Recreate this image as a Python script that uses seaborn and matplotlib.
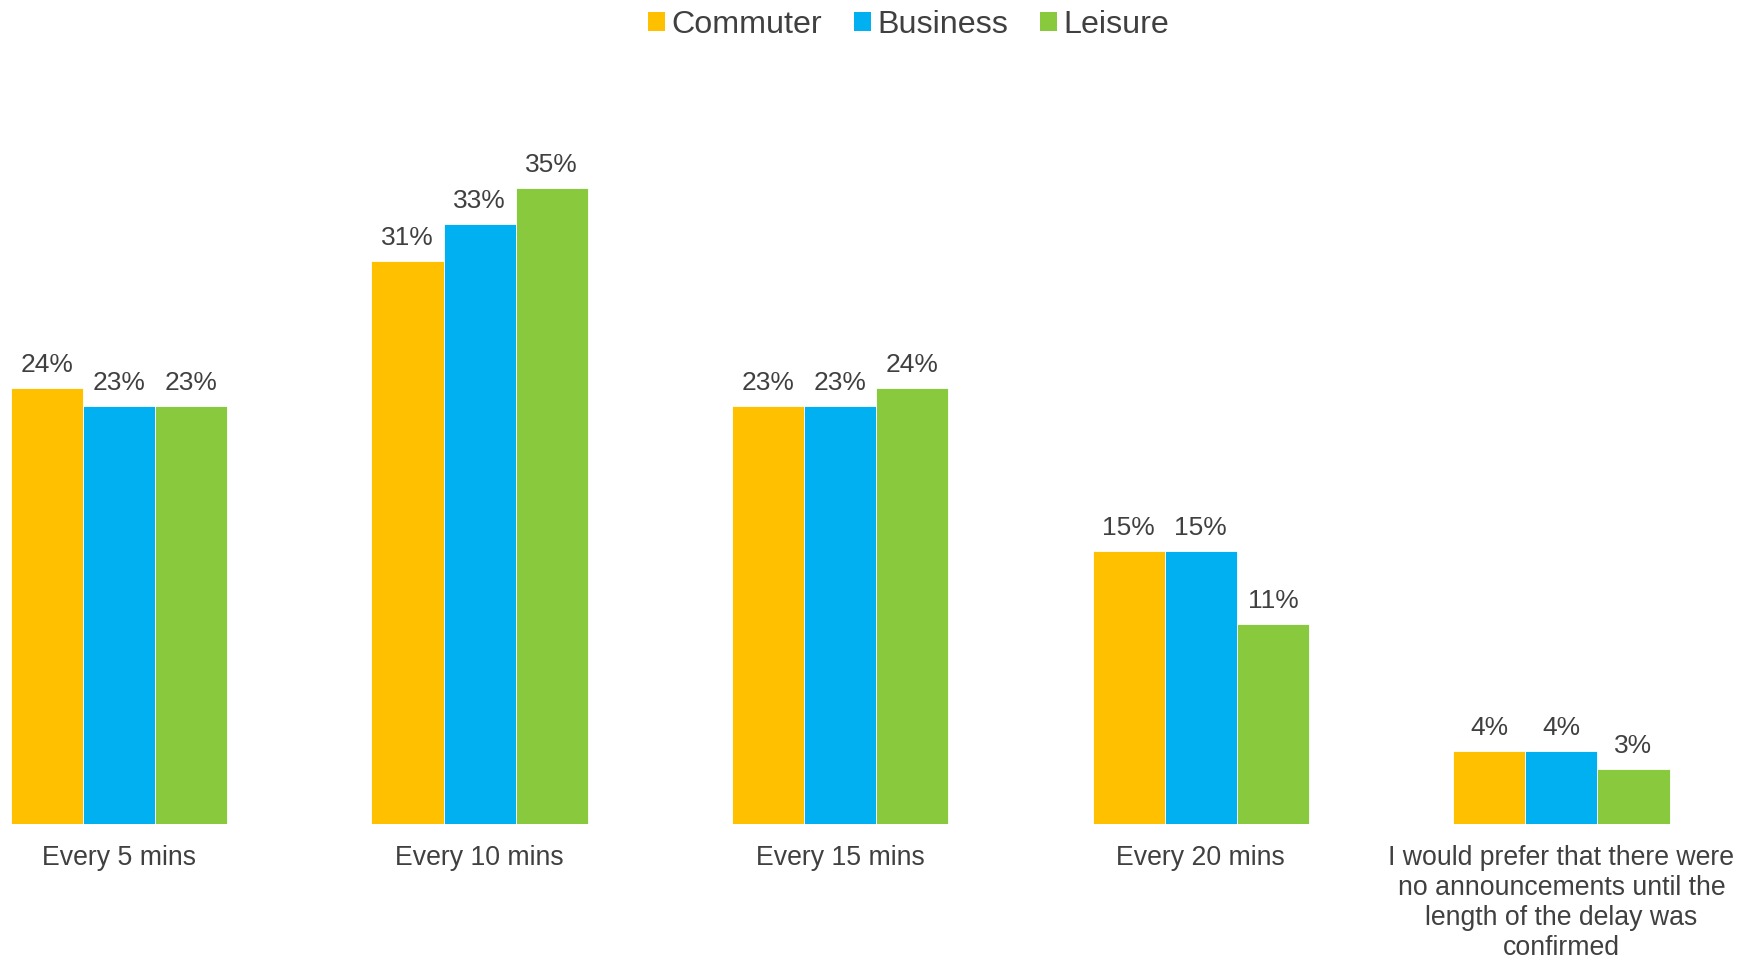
import matplotlib
matplotlib.use("Agg")
import matplotlib.pyplot as plt
import matplotlib.patches as mpatches
import seaborn as sns
import pandas as pd

# Survey answers: preferred frequency of delay announcements
categories = [
    "Every 5 mins",
    "Every 10 mins",
    "Every 15 mins",
    "Every 20 mins",
    "I would prefer that there were\nno announcements until the\nlength of the delay was\nconfirmed",
]
segments = ["Commuter", "Business", "Leisure"]
commuter = [24, 31, 23, 15, 4]
business = [23, 33, 23, 15, 4]
leisure = [23, 35, 24, 11, 3]

colors = ["#FFC000", "#00B0F0", "#89C93E"]
text_color = "#404040"

df = pd.DataFrame({
    "category": categories * 3,
    "segment": [s for s in segments for _ in categories],
    "value": commuter + business + leisure,
})

sns.set_theme(style="white")
plt.rcParams["font.family"] = ["Liberation Sans", "DejaVu Sans"]

fig = plt.figure(figsize=(17.37, 9.6), dpi=100)
ax = fig.add_axes([0.0, 0.1417, 1.0, 0.76])

sns.barplot(
    data=df, x="category", y="value", hue="segment",
    order=categories, hue_order=segments, palette=colors,
    width=0.6, gap=0, saturation=1, ax=ax, legend=False,
    edgecolor="white", linewidth=0.6,
)

for container in ax.containers:
    ax.bar_label(container, fmt="%d%%", padding=8, fontsize=19, color=text_color)

ax.set_xlim(-0.33, 4.487)
ax.set_ylim(0, 40.15)
ax.set_xlabel("")
ax.set_ylabel("")
ax.set_yticks([])
ax.tick_params(axis="x", length=0, pad=15, labelsize=19.2, labelcolor=text_color)
for lbl in ax.get_xticklabels():
    lbl.set_linespacing(1.2)
sns.despine(ax=ax, left=True, bottom=True)

handles = [mpatches.Patch(facecolor=c, edgecolor="none", label=s) for c, s in zip(colors, segments)]
fig.legend(
    handles=handles, loc="upper center", bbox_to_anchor=(0.523, 1.02), ncol=3,
    frameon=False, fontsize=23.2, labelcolor=text_color,
    handlelength=0.52, handleheight=0.52, handletextpad=0.2, columnspacing=1.0,
)

fig.savefig("out.png", dpi=100, facecolor="white")
